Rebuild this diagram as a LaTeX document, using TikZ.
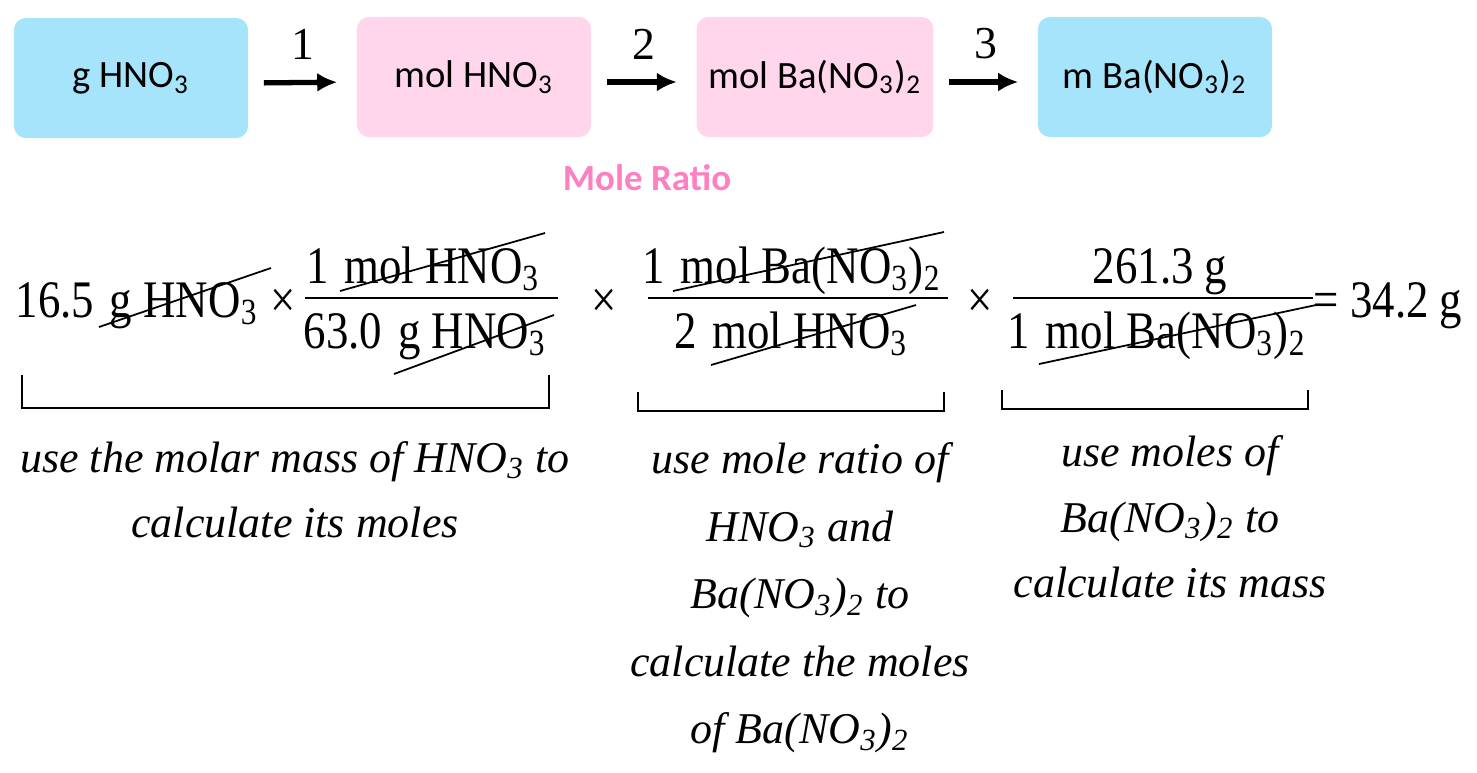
\documentclass[tikz,border=0pt]{standalone}
\usepackage{fontspec}
\setmainfont{Liberation Serif}
\newfontfamily\boxfont{Carlito}
\newfontfamily\eqfont{Liberation Serif}[FakeStretch=0.85]
\usetikzlibrary{arrows.meta}

\definecolor{boxblue}{RGB}{166,228,251}
\definecolor{boxpink}{RGB}{255,214,236}
\definecolor{ratiopink}{RGB}{255,128,192}

\newcommand{\gap}{\hspace{0.3em}}

\tikzset{
  unitbox/.style={rounded corners=0.12cm, minimum width=2.34cm, minimum height=1.2cm,
    font=\boxfont\fontsize{11}{13}\selectfont},
  flow/.style={-{Latex[length=0.2cm,width=0.19cm]}, line width=1.5pt,
    shorten <=0.15cm, shorten >=0.19cm},
  eq/.style={font=\eqfont\fontsize{15}{18}\selectfont, inner sep=0pt},
  cancel/.style={line width=0.5pt},
  brace/.style={line width=0.6pt},
  note/.style={font=\itshape\fontsize{12.5}{18.6}\selectfont, align=center}
}

\begin{document}
\begin{tikzpicture}[x=0.01cm, y=-0.01cm]
  \useasboundingbox (0,0) rectangle (1477,772);

  \begin{scope}[every node/.style={unitbox}]
    \node[fill=boxblue] (gacid)   at (131,78)  {g HNO\textsubscript{3}};
    \node[fill=boxpink] (molacid) at (474,77)  {mol HNO\textsubscript{3}};
    \node[fill=boxpink] (molsalt) at (815,77)  {mol Ba(NO\textsubscript{3})\textsubscript{2}};
    \node[fill=boxblue] (msalt)   at (1155,77) {m Ba(NO\textsubscript{3})\textsubscript{2}};
  \end{scope}

  \begin{scope}[every node/.style={font=\fontsize{13}{15}\selectfont, midway, yshift=0.38cm}]
    \path ([yshift=-0.05cm]gacid.east)   edge[flow] node {1} ([yshift=-0.05cm]molacid.west);
    \path ([yshift=-0.05cm]molacid.east) edge[flow] node {2} ([yshift=-0.05cm]molsalt.west);
    \path ([yshift=-0.05cm]molsalt.east) edge[flow] node {3} ([yshift=-0.05cm]msalt.west);
  \end{scope}

  \node[font=\boxfont\bfseries\fontsize{10.5}{12}\selectfont, text=ratiopink] (ratio) at (647,178) {Mole Ratio};

  \begin{scope}[every node/.style={eq, anchor=base}]
    \node[anchor=base west] (given) at (15,317) {16.5\gap g HNO\textsubscript{3}};
    \node (times1) at (283,317) {\texttimes};
    \node (num1) at (423,283) {1\gap mol HNO\textsubscript{3}};
    \node (den1) at (425,348) {63.0\gap g HNO\textsubscript{3}};
    \node (times2) at (604,317) {\texttimes};
    \node (num2) at (792,283) {1\gap mol Ba(NO\textsubscript{3})\textsubscript{2}};
    \node (den2) at (791,348) {2\gap mol HNO\textsubscript{3}};
    \node (times3) at (980,317) {\texttimes};
    \node (num3) at (1160,283) {261.3 g};
    \node (den3) at (1157,348) {1\gap mol Ba(NO\textsubscript{3})\textsubscript{2}};
    \node[anchor=base west] (result) at (1313,317) {= 34.2 g};
  \end{scope}

  \draw[cancel] (305,298) -- (558,298);
  \draw[cancel] (648,298) -- (948,298);
  \draw[cancel] (1013,298) -- (1313,298);

  \draw[cancel] (99,327) -- (271,268);
  \draw[cancel] (340,291) -- (545,233);
  \draw[cancel] (394,374) -- (554,315);
  \draw[cancel] (673,291) -- (944,232);
  \draw[cancel] (711,365) -- (916,305);
  \draw[cancel] (1039,364) -- (1316,305);

  \draw[brace] (22,375) -- (22,408) -- (549,408) -- (549,375);
  \draw[brace] (638,392) -- (638,411) -- (944,411) -- (944,392);
  \draw[brace] (1002,390) -- (1002,409) -- (1308,409) -- (1308,390);

  \begin{scope}[every node/.style={note}]
    \node (step1) at (295,490) {use the molar mass of HNO\textsubscript{3} to\\calculate its moles};
    \node[font=\itshape\fontsize{12.5}{19.2}\selectfont] (step2) at (800,598) {use mole ratio of\\HNO\textsubscript{3} and\\Ba(NO\textsubscript{3})\textsubscript{2} to\\calculate the moles\\of Ba(NO\textsubscript{3})\textsubscript{2}};
    \node (step3) at (1170,517) {use moles of\\Ba(NO\textsubscript{3})\textsubscript{2} to\\calculate its mass};
  \end{scope}

\end{tikzpicture}
\end{document}
